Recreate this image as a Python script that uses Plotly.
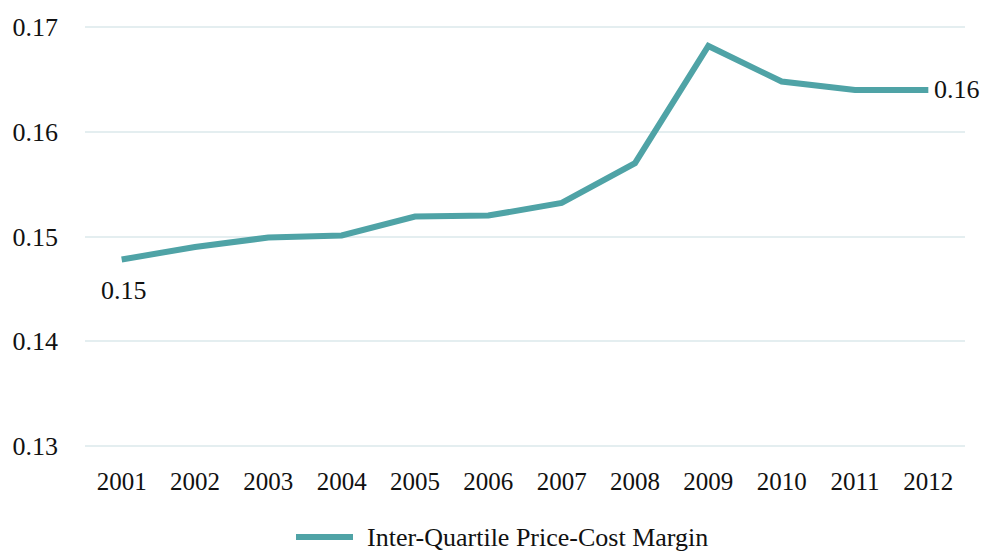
import plotly.graph_objects as go

years = ["2001", "2002", "2003", "2004", "2005", "2006", "2007", "2008", "2009", "2010", "2011", "2012"]
margin_values = [0.1478, 0.1490, 0.1499, 0.1501, 0.1519, 0.1520, 0.1532, 0.1570, 0.1682, 0.1648, 0.1640, 0.1640]
series_name = "Inter-Quartile Price-Cost Margin"
y_ticks = [0.13, 0.14, 0.15, 0.16, 0.17]

LINE = "#4FA3A6"
GRID = "#E4EEF0"
FONT = "Liberation Serif, Times New Roman, serif"

fig = go.Figure()
fig.add_trace(go.Scatter(
    x=years, y=margin_values, mode="lines", name=series_name,
    line=dict(color=LINE, width=6), showlegend=False,
))

# data labels on first and last points (category index positions)
fig.add_annotation(x=0, y=margin_values[0], text=f"{margin_values[0]:.2f}",
                   showarrow=False, yanchor="top", xanchor="center", yshift=-14, xshift=2,
                   font=dict(family=FONT, size=26, color="#111"))
fig.add_annotation(x=len(years) - 1, y=margin_values[-1], text=f"{margin_values[-1]:.2f}",
                   showarrow=False, yanchor="middle", xanchor="left", xshift=4,
                   font=dict(family=FONT, size=26, color="#111"))

# manual legend
PT, PB = 25, 103
PH = 551 - PT - PB
ly = -(537 - (551 - PB)) / PH
fig.add_shape(type="line", xref="paper", yref="paper", x0=(296 - 85) / 880, x1=(353 - 85) / 880,
              y0=ly, y1=ly, line=dict(color=LINE, width=6))
fig.add_annotation(xref="paper", yref="paper", x=(365 - 85) / 880, y=ly,
                   text=series_name, showarrow=False, xanchor="left", yanchor="middle",
                   font=dict(family=FONT, size=26, color="#111"))

fig.update_layout(
    width=989, height=551,
    margin=dict(l=85, r=24, t=PT, b=PB),
    paper_bgcolor="white", plot_bgcolor="white",
    font=dict(family=FONT, size=25, color="#111"),
    showlegend=False,
)
fig.update_xaxes(type="category", range=[-0.5, len(years) - 0.5], automargin=False,
                 showgrid=False, showline=False, ticks="",
                 ticklabelstandoff=16, tickfont=dict(size=25))
fig.update_yaxes(range=[0.1298, 0.1702], tickvals=y_ticks, ticktext=[f"{v:.2f}" for v in y_ticks],
                 automargin=False, showgrid=True, gridcolor=GRID, gridwidth=2, zeroline=False,
                 showline=False, ticks="", ticklabelstandoff=26, tickfont=dict(size=26))

fig.write_html("out.html", config={"displayModeBar": False},
               post_script="document.body.style.margin='0';document.body.style.overflow='hidden';")
